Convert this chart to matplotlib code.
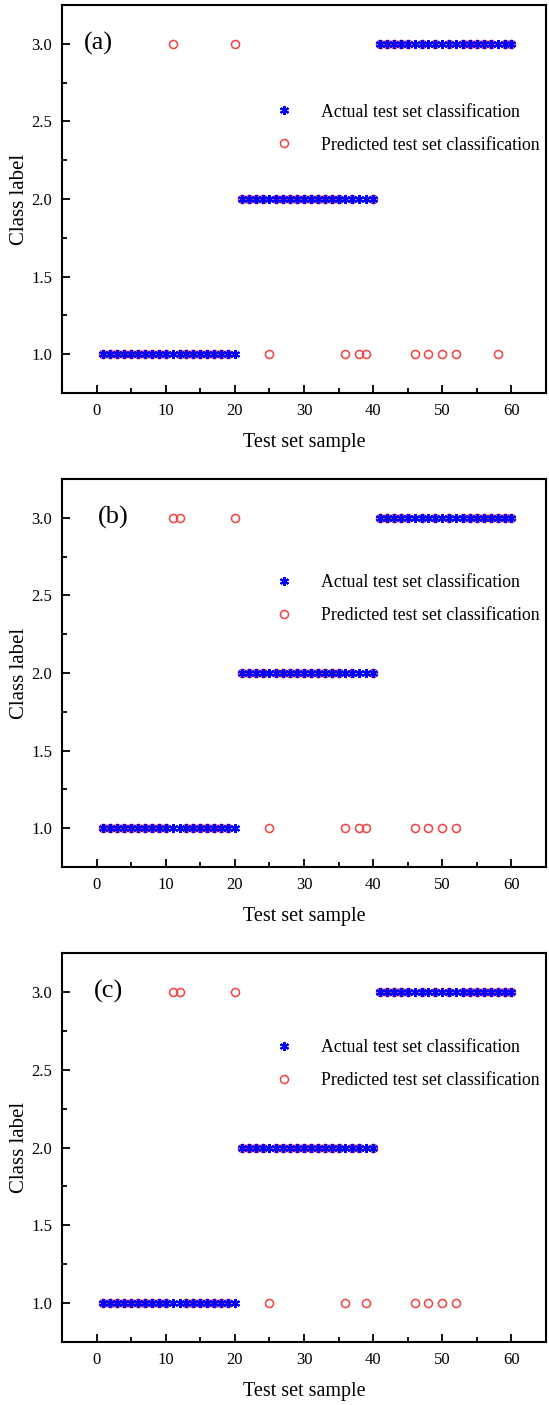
import numpy as np
import matplotlib
matplotlib.use("Agg")
import matplotlib.pyplot as plt
from matplotlib.ticker import MultipleLocator

plt.rcParams['font.family'] = ['Liberation Serif', 'DejaVu Serif']
plt.rcParams['mathtext.fontset'] = 'stix'

# test samples and their true classes
samples = np.arange(1, 61)
actual = [1] * 20 + [2] * 20 + [3] * 20

# samples whose predicted class differs from the actual one, per model
wrong_a = {11: 3, 20: 3, 25: 1, 36: 1, 38: 1, 39: 1, 46: 1, 48: 1, 50: 1, 52: 1, 58: 1}
wrong_b = {11: 3, 12: 3, 20: 3, 25: 1, 36: 1, 38: 1, 39: 1, 46: 1, 48: 1, 50: 1, 52: 1}
wrong_c = {11: 3, 12: 3, 20: 3, 25: 1, 36: 1, 39: 1, 46: 1, 48: 1, 50: 1, 52: 1}

panel_tags = ['(a)', '(b)', '(c)']
tag_x = [0.2, 2.4, 1.7]
legend_y = [2.615, 2.635, 2.695]

x_ticks = [0, 10, 20, 30, 40, 50, 60]
y_ticks = [1.0, 1.5, 2.0, 2.5, 3.0]


def predicted_from(wrong):
    return [wrong.get(s, a) for s, a in zip(samples, actual)]


predicted_sets = [predicted_from(w) for w in (wrong_a, wrong_b, wrong_c)]

fig = plt.figure(figsize=(5.49, 14.05), dpi=100)
W, H = 549, 1405
boxes = [(62, 5, 546, 393), (62, 479, 546, 867), (62, 953, 546, 1342)]

for i, (l, t, r, b) in enumerate(boxes):
    ax = fig.add_axes([l / W, 1 - b / H, (r - l) / W, (b - t) / H])
    pred = predicted_sets[i]
    ax.plot(samples, actual, linestyle='none', marker=(6, 2, 0), markersize=6.5,
            markeredgewidth=1.5, color='#0000FF', label='Actual test set classification',
            zorder=3)
    ax.plot(samples, pred, linestyle='none', marker='o', markersize=5.8,
            markerfacecolor='none', markeredgecolor='#F04848', markeredgewidth=1.15,
            label='Predicted test set classification', zorder=2)

    ax.set_xlim(-5, 65)
    ax.set_ylim(0.75, 3.25)
    ax.set_xticks(x_ticks)
    ax.set_yticks(y_ticks)
    ax.set_yticklabels([f'{v:.1f}' for v in y_ticks])
    ax.xaxis.set_minor_locator(MultipleLocator(5))
    ax.yaxis.set_minor_locator(MultipleLocator(0.25))
    ax.tick_params(which='major', direction='in', length=6, width=1.3,
                   labelsize=12, pad=7, top=False, right=False)
    ax.tick_params(which='minor', direction='in', length=3.5, width=1.3,
                   top=False, right=False)
    for sp in ax.spines.values():
        sp.set_linewidth(1.5)

    ax.set_xlabel('Test set sample', fontsize=14.5, labelpad=10)
    ax.set_ylabel('Class label', fontsize=15, labelpad=1.5)

    ax.text(tag_x[i], 3.0, panel_tags[i], fontsize=19, ha='center', va='center')

    ax.legend(loc='upper left', bbox_to_anchor=(24.5, legend_y[i]),
              bbox_transform=ax.transData, frameon=False, fontsize=12.8,
              handletextpad=1.1, labelspacing=0.9, handlelength=2.0,
              borderaxespad=0, borderpad=0)

fig.savefig('out.png', dpi=100)
